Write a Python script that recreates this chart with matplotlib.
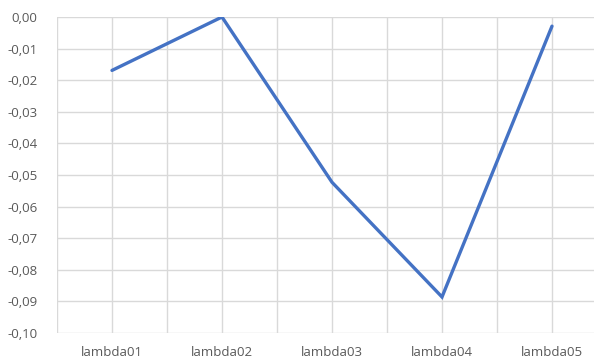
import matplotlib
matplotlib.use("Agg")
import matplotlib.pyplot as plt
import numpy as np
from matplotlib.ticker import FuncFormatter, MultipleLocator

categories = ["lambda01", "lambda02", "lambda03", "lambda04", "lambda05"]
values = [-0.0169, 0.0000, -0.0523, -0.0886, -0.0029]

W, H = 594, 362
fig = plt.figure(figsize=(W / 100, H / 100), dpi=100)
left, right, top, bottom = 57, 594, 17, 333
ax = fig.add_axes([left / W, 1 - bottom / H, (right - left) / W, (bottom - top) / H])

x = np.arange(len(categories))
ax.plot(x, values, color="#4472C4", linewidth=2.4, solid_capstyle="round",
        solid_joinstyle="miter", zorder=3)

ax.yaxis.set_major_locator(MultipleLocator(0.01))
ax.yaxis.set_major_formatter(FuncFormatter(lambda v, p: f"{v:.2f}".replace(".", ",").replace("-0,00", "0,00")))
ax.set_xticks(x)
ax.set_xticklabels(categories)
ax.set_xticks(np.arange(-0.5, 5, 0.5), minor=True)

band = 110.0
ax.set_xlim(-0.5, -0.5 + (right - left) / band)
ax.set_ylim(-0.10, 0.0)

grid_color = "#D9D9D9"
ax.grid(True, axis="y", which="major", color=grid_color, linewidth=1.0)
ax.grid(True, axis="x", which="both", color=grid_color, linewidth=1.0)
ax.set_axisbelow(True)
for s in ax.spines.values():
    s.set_visible(False)

ax.tick_params(axis="both", which="both", length=0, labelsize=9.5, labelcolor="#595959")
ax.tick_params(axis="y", pad=14)
ax.tick_params(axis="x", pad=9)
for lab in ax.get_xticklabels() + ax.get_yticklabels():
    lab.set_fontfamily("Open Sans")

fig.savefig("out.png", dpi=100)
